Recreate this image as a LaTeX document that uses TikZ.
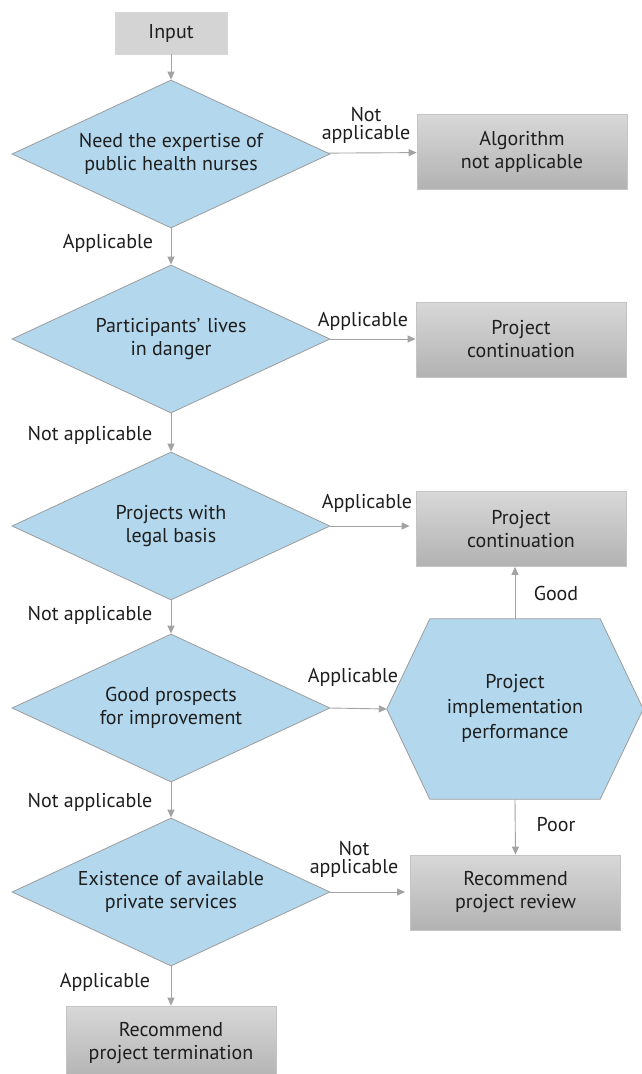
\documentclass[tikz,border=0pt]{standalone}
\usepackage{fontspec}
\setmainfont{PT Sans}
\usetikzlibrary{shapes.geometric,arrows.meta,calc}
\definecolor{dblue}{HTML}{B3D8EE}
\definecolor{lineg}{HTML}{9C9C9C}
\definecolor{arrg}{HTML}{A3A3A3}
\definecolor{boxb}{HTML}{C4C4C4}
\definecolor{boxtop}{HTML}{D8D8D8}
\definecolor{boxbot}{HTML}{B2B2B2}
\definecolor{txt}{HTML}{1E1E1E}
\begin{document}
\begin{tikzpicture}[x=1pt,y=-1pt,
  font=\fontsize{20}{23}\selectfont,
  dec/.style={diamond, aspect=2.15, draw=lineg, line width=0.8pt, fill=dblue, minimum width=318pt, minimum height=148pt, inner sep=0pt, align=center, text=txt},
  gbox/.style={rectangle, draw=boxb, line width=0.8pt, top color=boxtop, bottom color=boxbot, minimum width=210pt, minimum height=75pt, inner sep=0pt, align=center, text=txt},
  arr/.style={draw=arrg, line width=0.9pt, -{Triangle[length=8pt,width=7pt]}},
  lab/.style={align=center, text=txt, inner sep=0pt},
  lab2/.style={align=center, text=txt, inner sep=0pt, font=\fontsize{20}{18}\selectfont}]
\useasboundingbox (0,0) rectangle (641,1074);
\fill[white] (0,0) rectangle (641,1074);

\node[rectangle, draw=boxb!70!white, fill=boxtop!90!boxbot, minimum width=112pt, minimum height=42pt, inner sep=0pt, text=txt] (input) at (171,33) {Input};

\node[dec] (d1) at (171,154) {Need the expertise of\\public health nurses};
\node[dec] (d2) at (171,339) {Participants'\,\,lives\\in danger};
\node[dec] (d3) at (171,526) {Projects with\\legal basis};
\node[dec] (d4) at (171,708) {Good prospects\\for improvement};
\node[dec] (d5) at (171,892) {Existence of available\\private services};

\node[gbox] (alg) at (522,152) {Algorithm\\not applicable};
\node[gbox] (cont1) at (521,339.5) {Project\\continuation};
\node[gbox] (cont2) at (521,529) {Project\\continuation};
\node[gbox] (review) at (515.5,892.5) {Recommend\\project review};
\node[gbox] (term) at (171,1043.5) {Recommend\\project termination};

\node[minimum width=256pt, minimum height=180pt, inner sep=0pt] (hexb) at (515,709) {};
\filldraw[draw=lineg, line width=0.8pt, fill=dblue]
  (hexb.west) -- ($(hexb.north west)+(43,0)$) -- ($(hexb.north east)+(-43,0)$) -- (hexb.east)
  -- ($(hexb.south east)+(-43,0)$) -- ($(hexb.south west)+(43,0)$) -- cycle;
\node[lab, font=\fontsize{20}{25}\selectfont] (hex) at (515,708) {Project\\implementation\\performance};

\draw[arr] (input) -- (d1);
\draw[arr] (d1) -- (alg);
\draw[arr] (d1) -- (d2);
\draw[arr] (d2.east) -- (d2.east -| cont1.west);
\draw[arr] (d2) -- (d3);
\draw[arr, shorten >=6pt] (d3.east) -- (d3.east -| cont2.west);
\draw[arr] (d3) -- (d4);
\draw[arr] (d4.east) -- (hexb.west);
\draw[arr] (d4) -- (d5);
\draw[arr, shorten >=5pt] (d5.east) -- (d5.east -| review.west);
\draw[arr] (d5) -- (term);
\draw[arr] (hexb.north) -- (hexb.north |- cont2.south);
\draw[arr] (hexb.south) -- (review.north);

\node[lab2] (l1) at (366,125) {Not\\applicable};
\node[lab] (l2) at (108,243) {Applicable};
\node[lab] (l3) at (363,321) {Applicable};
\node[lab] (l4) at (90,435) {Not applicable};
\node[lab] (l5) at (367,503) {Applicable};
\node[lab] (l6) at (90,615) {Not applicable};
\node[lab] (l7) at (353,677) {Applicable};
\node[lab] (l8) at (90,802) {Not applicable};
\node[lab2] (l9) at (354,859) {Not\\applicable};
\node[lab] (l10) at (105,982) {Applicable};
\node[lab] (lg) at (556,593) {Good};
\node[lab] (lp) at (556,825) {Poor};
\end{tikzpicture}
\end{document}
